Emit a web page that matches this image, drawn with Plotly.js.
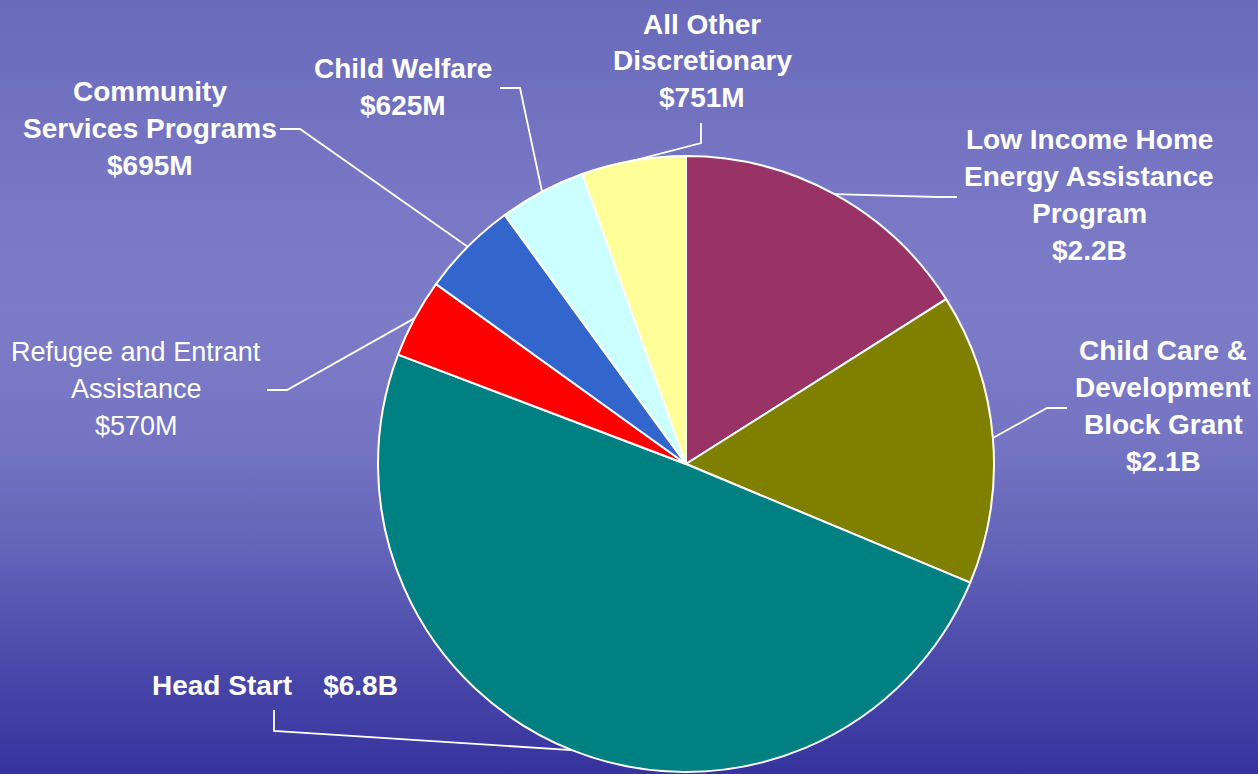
<!DOCTYPE html>
<html>
<head>
<meta charset="utf-8">
<script src="https://cdn.plot.ly/plotly-3.0.1.min.js"></script>
<style>
  html, body { margin: 0; padding: 0; }
  #chart {
    width: 1258px; height: 774px;
    background: linear-gradient(to bottom, #6a6abb 0%, #7777c5 25%, #7c7cc8 40%, #7474c3 58%, #6262b8 72%, #4a48aa 86%, #37339e 100%);
  }
</style>
</head>
<body>
<div id="chart"></div>
<script>
// ---- data ----
const labels = ['Low Income Home Energy Assistance Program', 'Child Care & Development Block Grant', 'Head Start',
                'Refugee and Entrant Assistance', 'Community Services Programs', 'Child Welfare', 'All Other Discretionary'];
const values = [2200, 2100, 6800, 570, 695, 625, 751];            // $ millions
const valueText = ['$2.2B', '$2.1B', '$6.8B', '$570M', '$695M', '$625M', '$751M'];
const labelLines = [
  ['Low Income Home', 'Energy Assistance', 'Program'],
  ['Child Care &', 'Development', 'Block Grant'],
  ['Head Start'],
  ['Refugee and Entrant', 'Assistance'],
  ['Community', 'Services Programs'],
  ['Child Welfare'],
  ['All Other', 'Discretionary']
];
const colors = ['#993366', '#808000', '#008080', '#ff0000', '#3366cc', '#ccffff', '#ffff99'];

// ---- layout constants (pixels) ----
const W = 1258, H = 774;
const CX = 686, CY = 464, R = 308;
const LINE_GAP = 37;
const placement = [
  {cx: 1089, base: 149, bold: true,  elbow: [937, 197], end: [957, 197]},
  {cx: 1163, base: 360, bold: true,  elbow: [1047, 408], end: [1067, 408]},
  {cx: 275,  base: 695, bold: true,  elbow: [274, 731], end: [274, 710], inline: true},
  {cx: 136,  base: 362, bold: false, elbow: [287, 390], end: [267, 390]},
  {cx: 150,  base: 102, bold: true,  elbow: [300, 129], end: [280, 129]},
  {cx: 403,  base: 78,  bold: true,  elbow: [520, 88],  end: [500, 88]},
  {cx: 702,  base: 34,  bold: true,  elbow: [701, 143], end: [701, 123]}
];

const px2x = p => p / W;
const px2y = p => 1 - p / H;

const total = values.reduce((a, b) => a + b, 0);
const annotations = [];
const shapes = [];
let cum = 0;
values.forEach((v, i) => {
  const mid = (cum + v / 2) / total * 2 * Math.PI;   // clockwise from 12 o'clock
  cum += v;
  const ax = CX + R * Math.sin(mid);
  const ay = CY - R * Math.cos(mid);
  const p = placement[i];
  shapes.push({
    type: 'path', xref: 'paper', yref: 'paper',
    path: `M ${px2x(ax)} ${px2y(ay)} L ${px2x(p.elbow[0])} ${px2y(p.elbow[1])} L ${px2x(p.end[0])} ${px2y(p.end[1])}`,
    line: {color: '#ffffff', width: 1.8}
  });
  const lines = p.inline
    ? [labelLines[i][0] + '&nbsp;&nbsp;&nbsp;&nbsp;' + valueText[i]]
    : labelLines[i].concat([valueText[i]]);
  lines.forEach((t, k) => {
    annotations.push({
      xref: 'paper', yref: 'paper',
      x: px2x(p.cx), y: px2y(p.base + k * LINE_GAP - 10),
      xanchor: 'center', yanchor: 'middle', showarrow: false,
      text: p.bold ? '<b>' + t + '</b>' : t,
      font: {family: 'Liberation Sans, Arial, sans-serif', size: p.bold ? 28 : 27, color: '#ffffff'}
    });
  });
});

const trace = {
  type: 'pie',
  labels: labels,
  values: values,
  sort: false,
  direction: 'clockwise',
  rotation: 0,
  marker: {colors: colors, line: {color: '#ffffff', width: 2}},
  textinfo: 'none',
  hoverinfo: 'label+value',
  showlegend: false,
  domain: {x: [px2x(CX - R), px2x(CX + R)], y: [px2y(CY + R), px2y(CY - R)]}
};

const layout = {
  width: W, height: H,
  margin: {l: 0, r: 0, t: 0, b: 0},
  paper_bgcolor: 'rgba(0,0,0,0)',
  plot_bgcolor: 'rgba(0,0,0,0)',
  showlegend: false,
  annotations: annotations,
  shapes: shapes
};

Plotly.newPlot('chart', [trace], layout, {displayModeBar: false, staticPlot: true});
</script>
</body>
</html>
